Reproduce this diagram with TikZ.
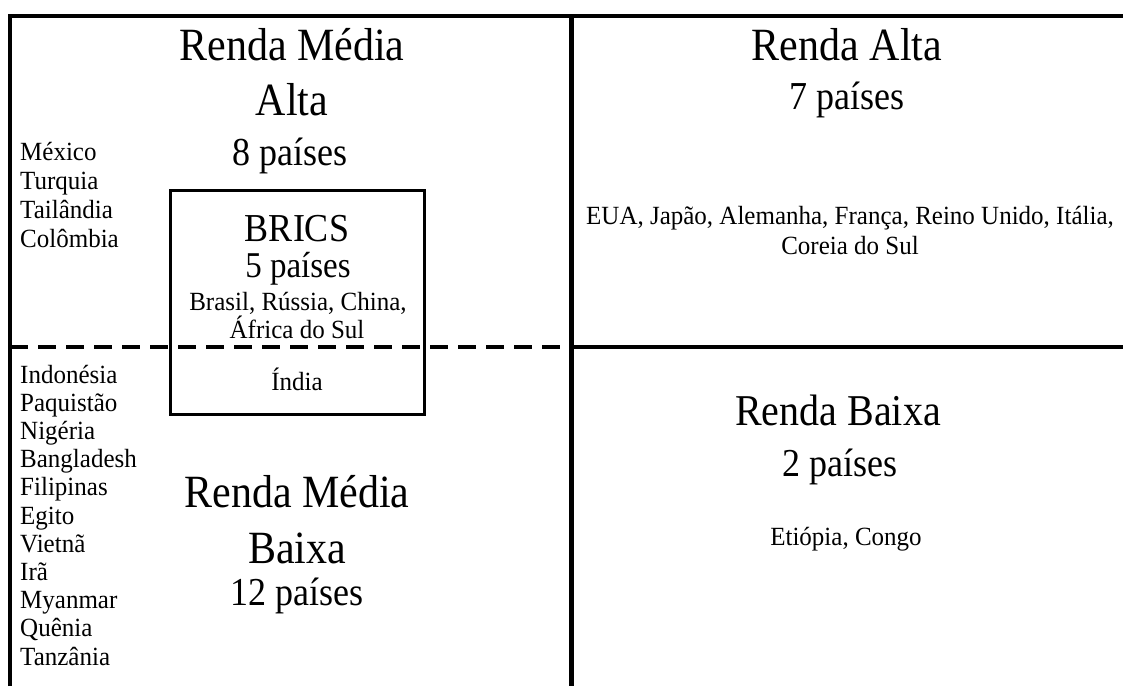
\documentclass[tikz,border=0pt]{standalone}
\usepackage{fontspec}
\setmainfont{Liberation Serif}
\usepackage{graphicx}
\usepackage{tikz}
\usetikzlibrary{positioning}

\newcommand{\alto}[2][1.1]{\scalebox{1}[#1]{#2}}

\begin{document}
\begin{tikzpicture}[x=1pt, y=-1pt,
    moldura/.style={line width=3.5pt},
    titulo/.style={anchor=base, inner sep=0pt, font=\fontsize{42}{50}\selectfont},
    subtitulo/.style={anchor=base, inner sep=0pt, font=\fontsize{36}{43}\selectfont},
    lista/.style={anchor=base west, inner sep=0pt, font=\fontsize{25}{30}\selectfont},
    texto/.style={anchor=base, inner sep=0pt, font=\fontsize{25}{30}\selectfont},
    caixa/.style={draw, line width=3pt, minimum width=254pt, minimum height=224pt, inner sep=0pt}]
    \useasboundingbox (0,0) rectangle (1123,686);

    % quadrantes
    \draw[moldura] (10,686) -- (10,16) -- (1123,16);
    \draw[moldura, line width=4.5pt] (571.5,16) -- (571.5,686);
    \draw[moldura] (571.5,347) -- (1123,347);
    \draw[moldura, dash pattern=on 18pt off 10pt] (10,347) -- (571.5,347);

    % renda media alta
    \node[titulo] (rmaA) at (292,60) {\alto{Renda Média}};
    \node[titulo] (rmaB) at (292,115) {\alto{Alta}};
    \node[subtitulo] (rmaN) at (290,165) {\alto{8 países}};
    \foreach \pais [count=\i] in {México, Turquia, Tailândia, Colômbia}
        \node[lista] (alta\i) at (20,{160+29*(\i-1)}) {\alto[1.05]{\pais}};

    % BRICS
    \node[caixa] (brics) at (297.25,302) {};
    \node[subtitulo] (bricsT) at (297,241) {\alto{BRICS}};
    \node[anchor=base, inner sep=0pt, font=\fontsize{33}{40}\selectfont] (bricsN) at (298,277) {\alto{5 países}};
    \node[texto] (bricsA) at (298,310) {\alto[1.05]{Brasil, Rússia, China,}};
    \node[texto] (bricsB) at (297,338) {\alto[1.05]{África do Sul}};
    \node[texto] (india) at (297,390) {\alto[1.05]{Índia}};

    % renda media baixa
    \node[titulo] (rmbA) at (297,507) {\alto{Renda Média}};
    \node[titulo] (rmbB) at (297,563) {\alto{Baixa}};
    \node[subtitulo] (rmbN) at (297,605) {\alto{12 países}};
    \foreach \pais [count=\i] in {Indonésia, Paquistão, Nigéria, Bangladesh, Filipinas, Egito, Vietnã, Irã, Myanmar, Quênia, Tanzânia}
        \node[lista] (baixa\i) at (20,{383+28.2*(\i-1)}) {\alto[1.05]{\pais}};

    % renda alta
    \node[titulo] (raA) at (847,60) {\alto{Renda Alta}};
    \node[subtitulo] (raN) at (847,109) {\alto{7 países}};
    \node[texto] (raL1) at (850,224) {\alto[1.05]{EUA, Japão, Alemanha, França, Reino Unido, Itália,}};
    \node[texto] (raL2) at (850,254) {\alto[1.05]{Coreia do Sul}};

    % renda baixa
    \node[titulo, font=\fontsize{40}{48}\selectfont] (rbA) at (838,425) {\alto{Renda Baixa}};
    \node[subtitulo] (rbN) at (840,476) {\alto{2 países}};
    \node[texto] (rbL) at (846,545) {\alto[1.05]{Etiópia, Congo}};
\end{tikzpicture}
\end{document}
